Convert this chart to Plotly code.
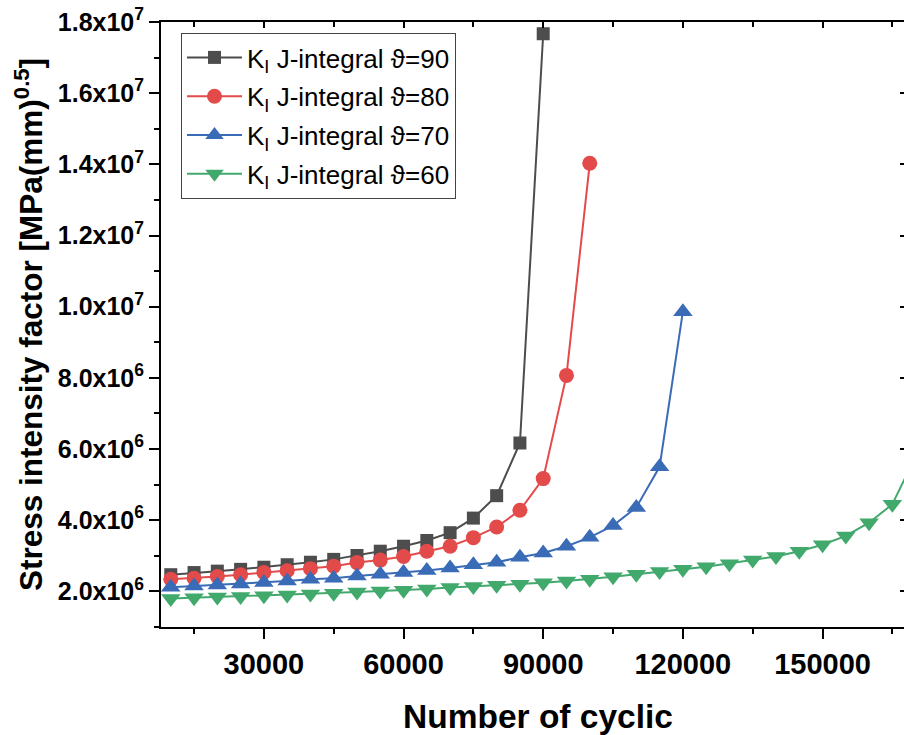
import plotly.graph_objects as go

# ---------------- data ----------------
cycles_90 = [10000, 15000, 20000, 25000, 30000, 35000, 40000, 45000, 50000, 55000,
             60000, 65000, 70000, 75000, 80000, 85000, 90000]
k_90 = [2.47e6, 2.53e6, 2.57e6, 2.62e6, 2.68e6, 2.75e6, 2.82e6, 2.90e6, 3.01e6, 3.13e6,
        3.27e6, 3.43e6, 3.65e6, 4.06e6, 4.69e6, 6.17e6, 1.767e7]

cycles_80 = [10000, 15000, 20000, 25000, 30000, 35000, 40000, 45000, 50000, 55000,
             60000, 65000, 70000, 75000, 80000, 85000, 90000, 95000, 100000]
k_80 = [2.34e6, 2.37e6, 2.42e6, 2.47e6, 2.53e6, 2.58e6, 2.64e6, 2.71e6, 2.81e6, 2.88e6,
        2.98e6, 3.13e6, 3.27e6, 3.51e6, 3.81e6, 4.28e6, 5.17e6, 8.07e6, 1.403e7]

cycles_70 = [10000, 15000, 20000, 25000, 30000, 35000, 40000, 45000, 50000, 55000,
             60000, 65000, 70000, 75000, 80000, 85000, 90000, 95000, 100000, 105000,
             110000, 115000, 120000]
k_70 = [2.12e6, 2.15e6, 2.18e6, 2.21e6, 2.25e6, 2.29e6, 2.34e6, 2.37e6, 2.43e6, 2.48e6,
        2.53e6, 2.59e6, 2.66e6, 2.75e6, 2.82e6, 2.96e6, 3.08e6, 3.27e6, 3.52e6, 3.85e6,
        4.36e6, 5.50e6, 9.86e6]

cycles_60 = [10000, 15000, 20000, 25000, 30000, 35000, 40000, 45000, 50000, 55000,
             60000, 65000, 70000, 75000, 80000, 85000, 90000, 95000, 100000, 105000,
             110000, 115000, 120000, 125000, 130000, 135000, 140000, 145000, 150000,
             155000, 160000, 165000, 170000]
k_60 = [1.80e6, 1.82e6, 1.84e6, 1.86e6, 1.88e6, 1.90e6, 1.93e6, 1.95e6, 1.98e6, 2.01e6,
        2.03e6, 2.07e6, 2.11e6, 2.14e6, 2.17e6, 2.20e6, 2.24e6, 2.29e6, 2.34e6, 2.41e6,
        2.48e6, 2.56e6, 2.62e6, 2.69e6, 2.78e6, 2.88e6, 2.98e6, 3.13e6, 3.31e6,
        3.56e6, 3.93e6, 4.45e6, 5.80e6]

series_names = ["K<sub>I</sub> J-integral \u03d1=90", "K<sub>I</sub> J-integral \u03d1=80",
                "K<sub>I</sub> J-integral \u03d1=70", "K<sub>I</sub> J-integral \u03d1=60"]

y_tickvals = [2e6, 4e6, 6e6, 8e6, 1e7, 1.2e7, 1.4e7, 1.6e7, 1.8e7]
y_ticktext = ["2.0x10<sup>6</sup>", "4.0x10<sup>6</sup>", "6.0x10<sup>6</sup>", "8.0x10<sup>6</sup>",
              "1.0x10<sup>7</sup>", "1.2x10<sup>7</sup>", "1.4x10<sup>7</sup>", "1.6x10<sup>7</sup>",
              "1.8x10<sup>7</sup>"]
y_minorvals = [1e6, 3e6, 5e6, 7e6, 9e6, 1.1e7, 1.3e7, 1.5e7, 1.7e7]

x_range = [7900, 167500]
y_range = [1.0e6, 1.8e7]

# ---------------- styling ----------------
FONT = "Liberation Sans, Arial, sans-serif"
colors = ["#4d4d4d", "#e34a4a", "#3a6bb7", "#41a96c"]
symbols = ["square", "circle", "triangle-up", "triangle-down"]
msizes = [13, 15, 17, 17]

fig = go.Figure()
all_x = [cycles_90, cycles_80, cycles_70, cycles_60]
all_y = [k_90, k_80, k_70, k_60]
for i in range(4):
    fig.add_trace(go.Scatter(
        x=all_x[i], y=all_y[i], mode="lines+markers", name=series_names[i],
        legendgroup=f"g{i}",
        line=dict(color=colors[i], width=2),
        marker=dict(symbol=symbols[i], size=msizes[i], color=colors[i]),
    ))

# invisible trace to activate the mirror (top / right) axes
fig.add_trace(go.Scatter(x=[None], y=[None], xaxis="x2", yaxis="y2",
                         showlegend=False, hoverinfo="skip"))

W, H = 904, 735
ML, MR, MT, MB = 161, 0, 22, 108
PW = W - ML - MR
PH = H - MT - MB

fig.update_layout(
    width=W, height=H,
    margin=dict(l=ML, r=MR, t=MT, b=MB, pad=0),
    paper_bgcolor="white", plot_bgcolor="white",
    font=dict(family=FONT, color="black"),
    showlegend=True,
    legend=dict(
        x=(181 - ML) / PW, y=(MT + PH - 33) / PH, xanchor="left", yanchor="top",
        bgcolor="white", bordercolor="#444444", borderwidth=1,
        font=dict(family=FONT, size=26, color="black"),
        tracegroupgap=2, itemwidth=55,
    ),
    xaxis=dict(
        range=x_range, showgrid=False, zeroline=False,
        showline=True, linecolor="black", linewidth=2,
        ticks="outside", ticklen=10, tickwidth=2, tickcolor="black",
        tick0=0, dtick=30000, tickformat="d",
        tickfont=dict(family=FONT, size=29, weight="bold"),
        minor=dict(ticks="outside", ticklen=5, tickwidth=2, tickcolor="black",
                   tick0=0, dtick=15000, showgrid=False),
    ),
    yaxis=dict(
        range=y_range, showgrid=False, zeroline=False,
        showline=True, linecolor="black", linewidth=2,
        ticks="outside", ticklen=10, tickwidth=2, tickcolor="black",
        tickmode="array", tickvals=y_tickvals, ticktext=y_ticktext,
        tickfont=dict(family=FONT, size=25, weight="bold"),
        minor=dict(ticks="outside", ticklen=5, tickwidth=2, tickcolor="black",
                   tickmode="array", tickvals=y_minorvals, showgrid=False),
    ),
    xaxis2=dict(
        overlaying="x", side="top", anchor="y2", range=x_range,
        showgrid=False, zeroline=False, showticklabels=False,
        showline=True, linecolor="black", linewidth=2,
        ticks="inside", ticklen=6, tickwidth=2, tickcolor="black",
        tick0=0, dtick=30000,
        minor=dict(ticks="inside", ticklen=5, tickwidth=2, tickcolor="black",
                   tick0=0, dtick=15000, showgrid=False),
    ),
    yaxis2=dict(
        overlaying="y", side="right", anchor="x2", range=y_range,
        showgrid=False, zeroline=False, showticklabels=False,
        showline=False,
        ticks="inside", ticklen=4, tickwidth=2, tickcolor="black",
        tickmode="array", tickvals=y_tickvals,
    ),
    annotations=[
        dict(text="Number of cyclic", xref="paper", yref="paper",
             x=(538 - ML) / PW, y=(MT + PH - 716) / PH, xanchor="center", yanchor="middle",
             showarrow=False, font=dict(family=FONT, size=33.5, weight="bold", color="black")),
        dict(text="Stress intensity factor [MPa(mm)<sup>0.5</sup>]", xref="paper", yref="paper",
             x=(29 - ML) / PW, y=(MT + PH - 325) / PH, xanchor="center", yanchor="middle",
             textangle=-90, showarrow=False,
             font=dict(family=FONT, size=31.5, weight="bold", color="black")),
    ],
)

fig.write_html("out.html")
